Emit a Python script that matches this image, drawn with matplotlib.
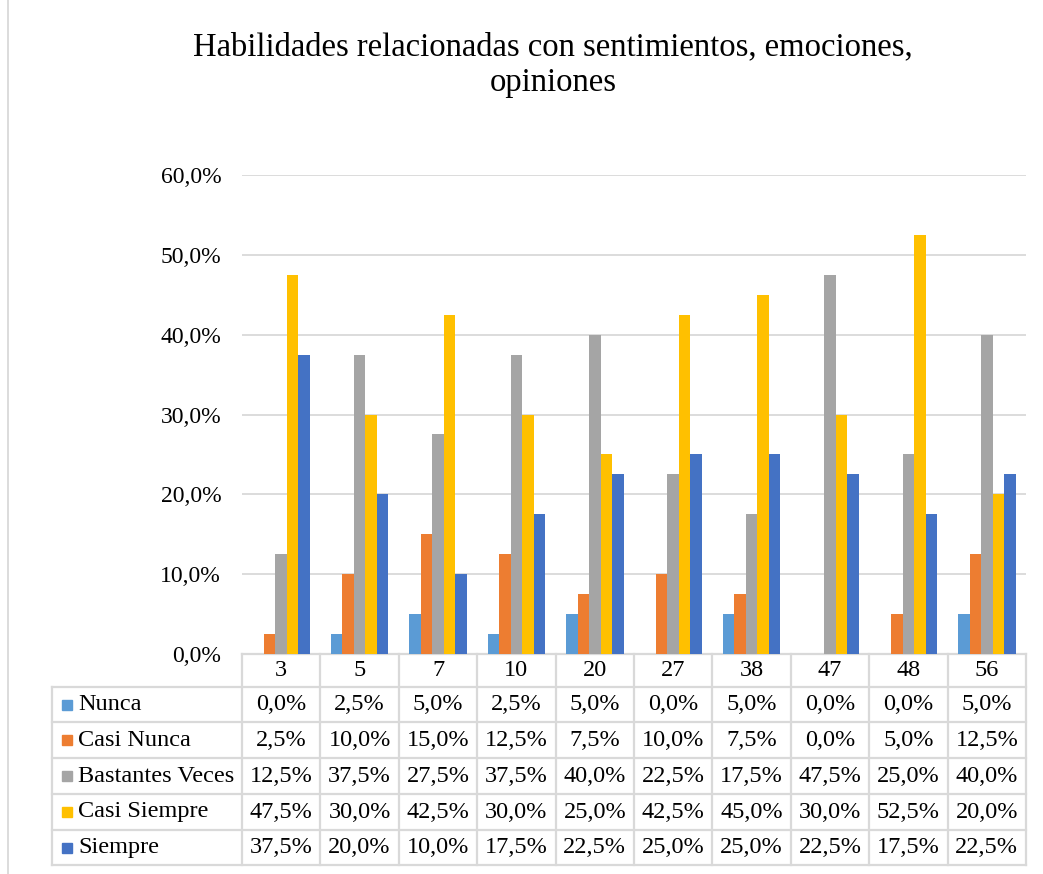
import numpy as np
import matplotlib.pyplot as plt
from matplotlib.ticker import FuncFormatter
from matplotlib.patches import Rectangle

plt.rcParams['font.family'] = ['Liberation Serif', 'DejaVu Serif']

categories = ['3', '5', '7', '10', '20', '27', '38', '47', '48', '56']
series = ['Nunca', 'Casi Nunca', 'Bastantes Veces', 'Casi Siempre', 'Siempre']
nunca = [0.0, 2.5, 5.0, 2.5, 5.0, 0.0, 5.0, 0.0, 0.0, 5.0]
casi_nunca = [2.5, 10.0, 15.0, 12.5, 7.5, 10.0, 7.5, 0.0, 5.0, 12.5]
bastantes = [12.5, 37.5, 27.5, 37.5, 40.0, 22.5, 17.5, 47.5, 25.0, 40.0]
casi_siempre = [47.5, 30.0, 42.5, 30.0, 25.0, 42.5, 45.0, 30.0, 52.5, 20.0]
siempre = [37.5, 20.0, 10.0, 17.5, 22.5, 25.0, 25.0, 22.5, 17.5, 22.5]
colors = ['#5B9BD5', '#ED7D31', '#A5A5A5', '#FFC000', '#4472C4']

data = [nunca, casi_nunca, bastantes, casi_siempre, siempre]

W, H = 1043, 874
fig = plt.figure(figsize=(W / 100, H / 100), dpi=100)
ax = fig.add_axes([242 / W, 1 - 654 / H, 784 / W, 479 / H])

x = np.arange(len(categories))
bw = 0.147
for i, (vals, c) in enumerate(zip(data, colors)):
    ax.bar(x + (i - 2) * bw, np.array(vals) / 100, bw, color=c, zorder=3)

ax.set_xlim(-0.5, len(categories) - 0.5)
ax.set_ylim(0, 0.6)
ax.set_yticks(np.arange(0, 0.61, 0.1))
ax.yaxis.set_major_formatter(FuncFormatter(lambda v, p: f'{v*100:.1f}%'.replace('.', ',')))
ax.tick_params(axis='y', length=0, pad=15, labelsize=17)
ax.set_xticks([])
ax.grid(axis='y', color='#D9D9D9', linewidth=1.3, zorder=0)
for s in ax.spines.values():
    s.set_visible(False)

# tabla de datos bajo el grafico (y en fraccion de ejes, x en unidades de datos)
trans = ax.get_xaxis_transform()
px = 1 / 479
cw = 78.4
row_edges = [0, -33, -68, -104, -140, -176, -211]
row_edges = [r * px for r in row_edges]
label_left = -0.5 - (242 - 52) / cw
lc = '#D9D9D9'
lw = 1.6

ax.plot([-0.5, 9.5], [row_edges[0]] * 2, transform=trans, color=lc, lw=lw, clip_on=False)
for r in row_edges[1:]:
    ax.plot([label_left, 9.5], [r, r], transform=trans, color=lc, lw=lw, clip_on=False)
for k in range(len(categories) + 1):
    ax.plot([k - 0.5, k - 0.5], [row_edges[0], row_edges[-1]], transform=trans,
            color=lc, lw=lw, clip_on=False)
ax.plot([label_left, label_left], [row_edges[1], row_edges[-1]], transform=trans,
        color=lc, lw=lw, clip_on=False)

hy = (row_edges[0] + row_edges[1]) / 2
for k, cat in enumerate(categories):
    ax.text(k, hy, cat, transform=trans, ha='center', va='center', fontsize=17.5)

for i, (name, vals, c) in enumerate(zip(series, data, colors)):
    yc = (row_edges[i + 1] + row_edges[i + 2]) / 2
    ax.add_patch(Rectangle((label_left + 10 / cw, yc - 5 * px), 10 / cw, 10 * px,
                           transform=trans, color=c, clip_on=False))
    ax.text(label_left + 26 / cw, yc, name, transform=trans, ha='left',
            va='center', fontsize=17.5)
    for k, v in enumerate(vals):
        ax.text(k, yc, f'{v:.1f}%'.replace('.', ','), transform=trans,
                ha='center', va='center', fontsize=17.5)

fig.text(553 / W, 1 - 65 / H, 'Habilidades relacionadas con sentimientos, emociones,\nopiniones',
         ha='center', va='center', fontsize=23.5, linespacing=1.22)

fig.add_artist(plt.Line2D([8 / W, 8 / W], [0, 1], color='#D9D9D9', lw=1.3))

fig.savefig('out.png', dpi=100)
